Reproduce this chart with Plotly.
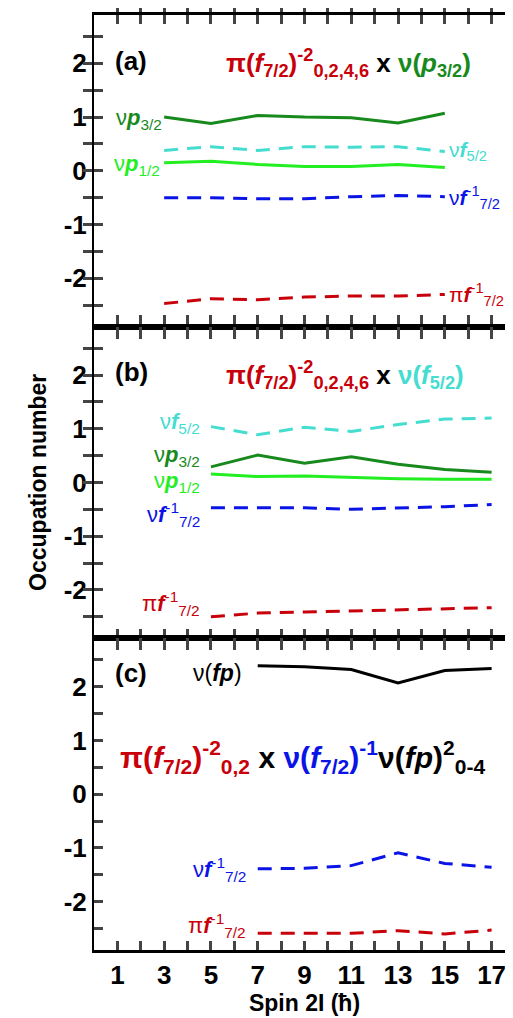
import plotly.graph_objects as go

RED = "#c8000a"
DGREEN = "#18891c"
LGREEN = "#22ee22"
TURQ = "#44ddd0"
BLUE = "#0a14e6"

# panel (a)
xa = [3, 5, 7, 9, 11, 13, 15]
a_p32 = [1.0, 0.88, 1.03, 1.0, 0.99, 0.89, 1.07]
a_f52 = [0.38, 0.45, 0.38, 0.45, 0.44, 0.45, 0.36]
a_p12 = [0.15, 0.18, 0.12, 0.08, 0.08, 0.12, 0.06]
a_f72 = [-0.5, -0.5, -0.52, -0.52, -0.48, -0.46, -0.48]
a_pi = [-2.47, -2.38, -2.4, -2.35, -2.33, -2.33, -2.3]

# panel (b)
xb = [5, 7, 9, 11, 13, 15, 17]
b_f52 = [1.04, 0.89, 1.03, 0.95, 1.08, 1.18, 1.2]
b_p32 = [0.29, 0.51, 0.36, 0.48, 0.34, 0.24, 0.19]
b_p12 = [0.16, 0.11, 0.12, 0.09, 0.07, 0.06, 0.06]
b_f72 = [-0.47, -0.47, -0.47, -0.5, -0.48, -0.45, -0.41]
b_pi = [-2.5, -2.43, -2.41, -2.39, -2.36, -2.35, -2.33]

# panel (c)
xc = [7, 9, 11, 13, 15, 17]
c_fp = [2.39, 2.37, 2.32, 2.07, 2.3, 2.34]
c_f72 = [-1.39, -1.38, -1.33, -1.09, -1.29, -1.36]
c_pi = [-2.59, -2.59, -2.59, -2.54, -2.6, -2.53]

FONT = "Liberation Sans"
fig = go.Figure()

def line(x, y, color, dash, row):
    fig.add_trace(go.Scatter(x=x, y=y, mode="lines", xaxis="x", yaxis="y" + ("" if row == 1 else str(row)),
                             line=dict(color=color, width=3, dash="14px,9px" if dash else "solid"),
                             showlegend=False, hoverinfo="none"))

line(xa, a_p32, DGREEN, False, 1)
line(xa, a_f52, TURQ, True, 1)
line(xa, a_p12, LGREEN, False, 1)
line(xa, a_f72, BLUE, True, 1)
line(xa, a_pi, RED, True, 1)
line(xb, b_f52, TURQ, True, 2)
line(xb, b_p32, DGREEN, False, 2)
line(xb, b_p12, LGREEN, False, 2)
line(xb, b_f72, BLUE, True, 2)
line(xb, b_pi, RED, True, 2)
line(xc, c_fp, "black", False, 3)
line(xc, c_f72, BLUE, True, 3)
line(xc, c_pi, RED, True, 3)

def ann(text, x, y, row, color, size=22, xanchor="left"):
    ya = "y" + ("" if row == 1 else str(row))
    fig.add_annotation(text=text, x=x, y=y, xref="x", yref=ya, showarrow=False,
                       xanchor=xanchor, yanchor="middle",
                       font=dict(family=FONT, size=size, color=color))

nu, pi = "ν", "π"
T = 26
ann("<b>(a)</b>", 0.8, 2.05, 1, "black", T)
ann("<b><span style='color:%s'>%s(<i>f</i><sub>7/2</sub>)<sup>-2</sup><sub>0,2,4,6</sub></span> x "
    "<span style='color:%s'>%s(<i>p</i><sub>3/2</sub>)</span></b>" % (RED, pi, DGREEN, nu),
    16.2, 2.0, 1, "black", T, xanchor="right")
ann("%s<b><i>p</i></b><sub>3/2</sub>" % nu, 3.0, 0.97, 1, DGREEN, xanchor="right")
ann("%s<b><i>p</i></b><sub>1/2</sub>" % nu, 2.9, 0.1, 1, LGREEN, xanchor="right")
ann("%s<b><i>f</i></b><sub>5/2</sub>" % nu, 15.1, 0.36, 1, TURQ, 21)
ann("%s<b><i>f</i></b><sup>-1</sup><sub>7/2</sub>" % nu, 15.1, -0.5, 1, BLUE, 21)
ann("%s<b><i>f</i></b><sup>-1</sup><sub>7/2</sub>" % pi, 15.1, -2.3, 1, RED, 21)

ann("<b>(b)</b>", 0.8, 2.05, 2, "black", T)
ann("<b><span style='color:%s'>%s(<i>f</i><sub>7/2</sub>)<sup>-2</sup><sub>0,2,4,6</sub></span> x "
    "<span style='color:%s'>%s(<i>f</i><sub>5/2</sub>)</span></b>" % (RED, pi, TURQ, nu),
    15.9, 2.0, 2, "black", T, xanchor="right")
ann("%s<b><i>f</i></b><sub>5/2</sub>" % nu, 4.6, 1.1, 2, TURQ, xanchor="right")
ann("%s<b><i>p</i></b><sub>3/2</sub>" % nu, 4.6, 0.5, 2, DGREEN, xanchor="right")
ann("%s<b><i>p</i></b><sub>1/2</sub>" % nu, 4.6, 0.0, 2, LGREEN, xanchor="right")
ann("%s<b><i>f</i></b><sup>-1</sup><sub>7/2</sub>" % nu, 4.6, -0.6, 2, BLUE, xanchor="right")
ann("%s<b><i>f</i></b><sup>-1</sup><sub>7/2</sub>" % pi, 4.6, -2.25, 2, RED, xanchor="right")

ann("<b>(c)</b>", 0.8, 2.25, 3, "black", T)
ann("%s(<b><i>fp</i></b>)" % nu, 6.4, 2.25, 3, "black", 23, xanchor="right")
ann("<b><span style='color:%s'>%s(<i>f</i><sub>7/2</sub>)<sup>-2</sup><sub>0,2</sub></span> x "
    "<span style='color:%s'>%s(<i>f</i><sub>7/2</sub>)<sup>-1</sup></span>%s(<i>fp</i>)<sup>2</sup><sub>0-4</sub></b>"
    % (RED, pi, BLUE, nu, nu), 8.9, 0.7, 3, "black", 30, xanchor="center")
ann("%s<b><i>f</i></b><sup>-1</sup><sub>7/2</sub>" % nu, 6.6, -1.4, 3, BLUE, xanchor="right")
ann("%s<b><i>f</i></b><sup>-1</sup><sub>7/2</sub>" % pi, 6.6, -2.45, 3, RED, xanchor="right")

fig.add_annotation(text="<b>Occupation number</b>", x=-0.17, y=0.5, xref="paper", yref="paper",
                   textangle=-90, showarrow=False, font=dict(family=FONT, size=23, color="black"))

yvals = [v / 2 for v in range(-5, 6)]
ytext = ["<b>%d</b>" % v if v == int(v) else "" for v in yvals]
yax = dict(range=[-2.9, 2.9], tickvals=yvals, ticktext=ytext, ticks="inside", ticklen=9, tickwidth=3,
           showline=True, linewidth=2, linecolor="black", mirror="allticks", showgrid=False, zeroline=False,
           tickfont=dict(family=FONT, size=26, color="black"))
domains = [[2 / 3, 1], [1 / 3, 2 / 3], [0, 1 / 3]]

fig.update_layout(
    width=513, height=1018, margin=dict(l=86, r=4, t=5, b=76),
    plot_bgcolor="white", paper_bgcolor="white",
    xaxis=dict(range=[0, 18], tickvals=list(range(0, 19)),
               ticktext=["<b>%d</b>" % v if v % 2 == 1 else "" for v in range(0, 19)],
               ticks="inside", ticklen=9, tickwidth=3, showline=True, linewidth=3, linecolor="black",
               mirror="allticks", showgrid=False, zeroline=False, anchor="y3",
               tickfont=dict(family=FONT, size=26, color="black"),
               title=dict(text="<b>Spin 2I (ħ)</b>", font=dict(family=FONT, size=23, color="black"), standoff=2)),
    yaxis=dict(domain=domains[0], **yax),
    yaxis2=dict(domain=domains[1], **yax),
    yaxis3=dict(domain=domains[2], **yax),
)
# extra x axes to draw borders/ticks on panels (a) and (b)
for i, ya in ((4, "y"), (5, "y2")):
    fig.update_layout(**{"xaxis%d" % i: dict(range=[0, 18], tickvals=list(range(0, 19)), showticklabels=False,
                                             ticks="inside", ticklen=9, tickwidth=3, showline=True, linewidth=2,
                                             linecolor="black", mirror="allticks", showgrid=False,
                                             zeroline=False, anchor=ya, overlaying="x")})
    fig.add_trace(go.Scatter(x=[None], y=[None], xaxis="x%d" % i, yaxis=ya, showlegend=False))

fig.write_html("out.html")
